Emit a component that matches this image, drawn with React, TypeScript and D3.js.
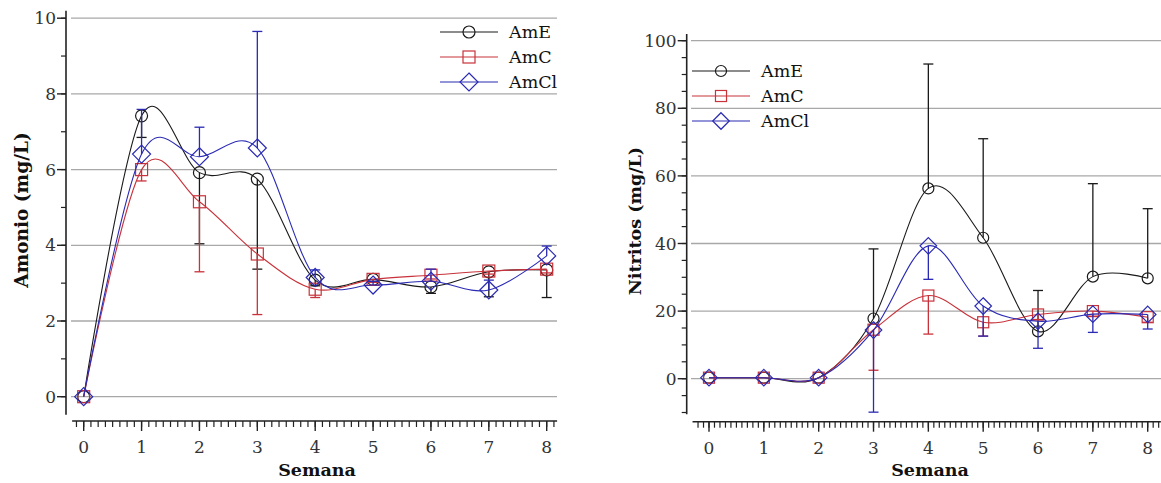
import React from 'react';
import * as d3 from 'd3';

const weeks = [0, 1, 2, 3, 4, 5, 6, 7, 8];
const seriesNames = ['AmE', 'AmC', 'AmCl'];

// Amonio (mg/L)
const amonioAmE = [0, 7.42, 5.92, 5.75, 3.08, 3.1, 2.9, 3.3, 3.35];
const amonioAmC = [0, 6.0, 5.15, 3.77, 2.84, 3.1, 3.21, 3.32, 3.37];
const amonioAmCl = [0, 6.41, 6.34, 6.57, 3.15, 2.95, 3.05, 2.82, 3.72];
const amonioErrAmE = [0, 0.57, 1.88, 2.38, 0.15, 0.06, 0.17, 0.66, 0.73]; // drawn downward
const amonioErrAmC = [0, 0.3, 1.85, 1.6, 0.22, 0.08, 0.1, 0.08, 0.1]; // downward
const amonioErrAmCl = [0, 1.18, 0.78, 3.08, 0.2, 0.1, 0.32, 0.26, 0.26]; // upward
const amonioYTicks = [0, 2, 4, 6, 8, 10];

// Nitritos (mg/L)
const nitritosAmE = [0.3, 0.3, 0.3, 17.8, 56.3, 41.7, 14.0, 30.2, 29.7];
const nitritosAmC = [0.3, 0.3, 0.3, 14.5, 24.6, 16.7, 19.0, 20.0, 18.2];
const nitritosAmCl = [0.3, 0.3, 0.3, 14.4, 39.3, 21.5, 17.0, 19.1, 19.0];
const nitritosErrAmE = [0, 0, 0, 20.6, 36.8, 29.3, 12.1, 27.5, 20.6]; // upward
const nitritosErrAmC = [0, 0, 0, 12.0, 11.4, 4.1, 1.5, 1.5, 1.5]; // downward
const nitritosErrAmCl = [0, 0, 0, 24.3, 9.9, 8.9, 8.0, 5.4, 4.3]; // downward
const nitritosYTicks = [0, 20, 40, 60, 80, 100];

const COLORS = ['#1a1a1a', '#c8323a', '#2a2ab4'];
const MARKERS = ['circle', 'square', 'diamond'];

type Series = { name: string; values: number[]; err: number[]; dir: number; color: string; marker: string };

type Cfg = {
  xRange: [number, number];
  xAxisExt: [number, number];
  minorXStep: number;
  yDomain: [number, number];
  yRange: [number, number];
  yAxisExt: [number, number];
  yTicks: number[];
  minorYStep: number;
  axisX: number;
  axisY: number;
  gridX: [number, number];
  yLabel: string;
  yLabelX: number;
  yLabelY: number;
  yLabelSize: number;
  xLabelX: number;
  legendX: number;
  legendY: number;
  legendGap: number;
  markerScale: number;
  series: Series[];
};

function Marker({ type, x, y, color, s }: { type: string; x: number; y: number; color: string; s: number }) {
  if (type === 'circle') return <circle cx={x} cy={y} r={6 * s} fill="none" stroke={color} strokeWidth={1.2} />;
  if (type === 'square')
    return <rect x={x - 6 * s} y={y - 6 * s} width={12 * s} height={12 * s} fill="none" stroke={color} strokeWidth={1.2} />;
  const h = 9 * s;
  return (
    <path d={`M${x},${y - h}L${x + h},${y}L${x},${y + h}L${x - h},${y}Z`} fill="none" stroke={color} strokeWidth={1.2} />
  );
}

function Chart({ cfg }: { cfg: Cfg }) {
  const x = d3.scaleLinear().domain([0, 8]).range(cfg.xRange);
  const y = d3.scaleLinear().domain(cfg.yDomain).range(cfg.yRange);
  const line = d3
    .line<number>()
    .x((_, i) => x(weeks[i]))
    .y((d) => y(d))
    .curve(d3.curveCardinal.tension(0));
  const minorX = d3.range(Math.ceil(cfg.xAxisExt[0] / cfg.minorXStep), Math.floor(cfg.xAxisExt[1] / cfg.minorXStep) + 1).map(
    (k) => k * cfg.minorXStep
  );
  const minorY = d3
    .range(Math.ceil(cfg.yAxisExt[0] / cfg.minorYStep), Math.floor(cfg.yAxisExt[1] / cfg.minorYStep) + 1)
    .map((k) => k * cfg.minorYStep);
  const font = "'DejaVu Serif', serif";
  return (
    <g>
      {/* grid */}
      {cfg.yTicks.map((t) => (
        <line key={'g' + t} x1={cfg.gridX[0]} x2={cfg.gridX[1]} y1={y(t)} y2={y(t)} stroke="#a8a8a8" strokeWidth={1.3} />
      ))}
      {/* y axis */}
      <line x1={cfg.axisX} x2={cfg.axisX} y1={y(cfg.yAxisExt[0])} y2={y(cfg.yAxisExt[1])} stroke="#222" strokeWidth={1.6} />
      {minorY.map((t) => (
        <line key={'my' + t} x1={cfg.axisX - 5} x2={cfg.axisX} y1={y(t)} y2={y(t)} stroke="#222" strokeWidth={1.2} />
      ))}
      {cfg.yTicks.map((t) => (
        <g key={'yt' + t}>
          <line x1={cfg.axisX - 9} x2={cfg.axisX} y1={y(t)} y2={y(t)} stroke="#222" strokeWidth={1.4} />
          <text x={cfg.axisX - 10} y={y(t)} dy="0.36em" textAnchor="end" fontFamily={font} fontSize={17} fill="#333">
            {t}
          </text>
        </g>
      ))}
      {/* x axis */}
      <line x1={x(cfg.xAxisExt[0])} x2={x(cfg.xAxisExt[1])} y1={cfg.axisY} y2={cfg.axisY} stroke="#222" strokeWidth={1.6} />
      {minorX.map((t) => (
        <line key={'mx' + t} x1={x(t)} x2={x(t)} y1={cfg.axisY} y2={cfg.axisY + 6} stroke="#222" strokeWidth={1.2} />
      ))}
      {weeks.map((w) => (
        <g key={'xt' + w}>
          <line x1={x(w)} x2={x(w)} y1={cfg.axisY} y2={cfg.axisY + 10} stroke="#222" strokeWidth={1.4} />
          <text x={x(w)} y={cfg.axisY + 32} textAnchor="middle" fontFamily={font} fontSize={17} fill="#333">
            {w}
          </text>
        </g>
      ))}
      <text x={cfg.xLabelX} y={476} textAnchor="middle" fontFamily={font} fontWeight="bold" fontSize={17.5} fill="#111">
        Semana
      </text>
      <text
        transform={`translate(${cfg.yLabelX},${cfg.yLabelY}) rotate(-90)`}
        textAnchor="middle"
        dy="0.35em"
        fontFamily={font}
        fontWeight="bold"
        fontSize={cfg.yLabelSize}
        fill="#111"
      >
        {cfg.yLabel}
      </text>
      {/* series */}
      {cfg.series.map((s) => (
        <g key={s.name}>
          <path d={line(s.values) || ''} fill="none" stroke={s.color} strokeWidth={1.1} />
          {s.values.map((v, i) =>
            s.err[i] > 0 ? (
              <g key={'e' + i}>
                <line x1={x(weeks[i])} x2={x(weeks[i])} y1={y(v)} y2={y(v + s.dir * s.err[i])} stroke={s.color} strokeWidth={1.3} />
                <line
                  x1={x(weeks[i]) - 5}
                  x2={x(weeks[i]) + 5}
                  y1={y(v + s.dir * s.err[i])}
                  y2={y(v + s.dir * s.err[i])}
                  stroke={s.color}
                  strokeWidth={1.3}
                />
              </g>
            ) : null
          )}
          {s.values.map((v, i) => (
            <Marker key={'m' + i} type={s.marker} x={x(weeks[i])} y={y(v)} color={s.color} s={cfg.markerScale} />
          ))}
        </g>
      ))}
      {/* legend */}
      {cfg.series.map((s, i) => {
        const ly = cfg.legendY + i * cfg.legendGap;
        return (
          <g key={'lg' + s.name}>
            <line x1={cfg.legendX} x2={cfg.legendX + 58} y1={ly} y2={ly} stroke={s.color} strokeWidth={1.2} />
            <Marker type={s.marker} x={cfg.legendX + 29} y={ly} color={s.color} s={cfg.markerScale} />
            <text x={cfg.legendX + 69} y={ly} dy="0.35em" fontFamily={font} fontSize={17.5} fill="#111">
              {s.name}
            </text>
          </g>
        );
      })}
    </g>
  );
}

const amonioSeries: Series[] = [
  { name: seriesNames[0], values: amonioAmE, err: amonioErrAmE, dir: -1, color: COLORS[0], marker: MARKERS[0] },
  { name: seriesNames[1], values: amonioAmC, err: amonioErrAmC, dir: -1, color: COLORS[1], marker: MARKERS[1] },
  { name: seriesNames[2], values: amonioAmCl, err: amonioErrAmCl, dir: 1, color: COLORS[2], marker: MARKERS[2] },
];

const nitritosSeries: Series[] = [
  { name: seriesNames[0], values: nitritosAmE, err: nitritosErrAmE, dir: 1, color: COLORS[0], marker: MARKERS[0] },
  { name: seriesNames[1], values: nitritosAmC, err: nitritosErrAmC, dir: -1, color: COLORS[1], marker: MARKERS[1] },
  { name: seriesNames[2], values: nitritosAmCl, err: nitritosErrAmCl, dir: -1, color: COLORS[2], marker: MARKERS[2] },
];

const leftCfg: Cfg = {
  xRange: [83.7, 546.7],
  xAxisExt: [-0.2, 8.18],
  minorXStep: 0.125,
  yDomain: [0, 10],
  yRange: [396.7, 18.2],
  yAxisExt: [-0.48, 10.2],
  yTicks: amonioYTicks,
  minorYStep: 1,
  axisX: 66,
  axisY: 421,
  gridX: [71, 557],
  yLabel: 'Amonio (mg/L)',
  yLabelX: 22,
  yLabelY: 210,
  yLabelSize: 18.5,
  xLabelX: 317,
  legendX: 440,
  legendY: 32,
  legendGap: 25,
  markerScale: 1,
  series: amonioSeries,
};

const rightCfg: Cfg = {
  xRange: [709, 1147.7],
  xAxisExt: [-0.3, 8.24],
  minorXStep: 0.1,
  yDomain: [0, 100],
  yRange: [378.7, 40.7],
  yAxisExt: [-10.5, 102],
  yTicks: nitritosYTicks,
  minorYStep: 5,
  axisX: 686.7,
  axisY: 421.7,
  gridX: [691, 1161],
  yLabel: 'Nitritos (mg/L)',
  yLabelX: 635,
  yLabelY: 221,
  yLabelSize: 17.5,
  xLabelX: 930,
  legendX: 692,
  legendY: 71,
  legendGap: 25,
  markerScale: 0.92,
  series: nitritosSeries,
};

export default function App() {
  return (
    <svg
      width={1161}
      height={483}
      viewBox="0 0 1161 483"
      style={{ position: 'absolute', left: 0, top: 0, background: '#fff' }}
    >
      <rect x={0} y={0} width={1161} height={483} fill="#fff" />
      <Chart cfg={leftCfg} />
      <Chart cfg={rightCfg} />
    </svg>
  );
}
